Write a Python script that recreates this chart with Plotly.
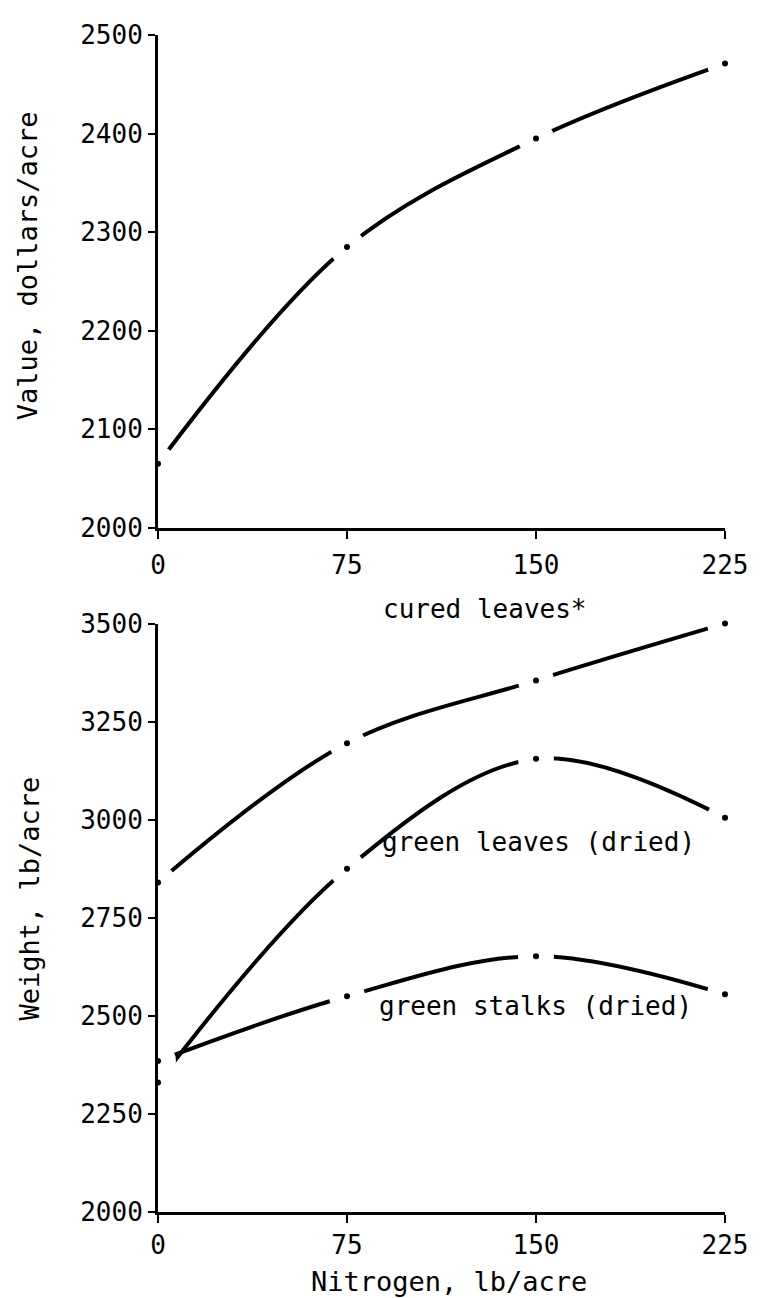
import plotly.graph_objects as go

# ---- data ----
nitrogen = [0, 75, 150, 225]
value_dollars = [2065, 2285, 2395, 2471]
cured_leaves = [2840, 3195, 3355, 3500]
green_leaves = [2330, 2875, 3155, 3005]
green_stalks = [2385, 2550, 2652, 2555]

x_ticks = [0, 75, 150, 225]
value_ticks = [2000, 2100, 2200, 2300, 2400, 2500]
weight_ticks = [2000, 2250, 2500, 2750, 3000, 3250, 3500]

series_labels = ["cured leaves*", "green leaves (dried)", "green stalks (dried)"]

FONT = "DejaVu Sans Mono"
INK = "black"

fig = go.Figure()

panels = [
    ("x", "y", [value_dollars]),
    ("x2", "y2", [cured_leaves, green_leaves, green_stalks]),
]

# curves
for xa, ya, ser in panels:
    for s in ser:
        fig.add_trace(go.Scatter(
            x=nitrogen, y=s, xaxis=xa, yaxis=ya, mode="lines",
            line=dict(color=INK, width=4, shape="spline"),
            showlegend=False, hoverinfo="skip"))
# white halos that open gaps in the line around each point
for xa, ya, ser in panels:
    for s in ser:
        fig.add_trace(go.Scatter(
            x=nitrogen, y=s, xaxis=xa, yaxis=ya, mode="markers",
            marker=dict(color="white", size=36, opacity=1, line=dict(width=0)),
            cliponaxis=False, showlegend=False, hoverinfo="skip"))
# data points
for xa, ya, ser in panels:
    for s in ser:
        fig.add_trace(go.Scatter(
            x=nitrogen, y=s, xaxis=xa, yaxis=ya, mode="markers",
            marker=dict(color=INK, size=6, line=dict(width=0)),
            cliponaxis=False, showlegend=False))

axis_common = dict(
    showline=True, linecolor=INK, linewidth=3, mirror=False,
    showgrid=False, zeroline=False, ticks="outside", tickcolor=INK,
    tickwidth=2, tickfont=dict(family=FONT, size=26, color=INK),
    layer="above traces",
)

# page body has an 8px margin, so the figure is sized/placed to compensate
fig.update_layout(
    width=752, height=1290,
    margin=dict(l=150, r=21, t=22, b=86),
    paper_bgcolor="white", plot_bgcolor="white",
    xaxis=dict(axis_common, domain=[0, 1], anchor="y", range=[0, 225],
               tickvals=x_ticks, ticklen=8, ticklabelstandoff=4,
               ticklabeloverflow="allow"),
    yaxis=dict(axis_common, domain=[0.5812, 1], anchor="x", range=[2000, 2500],
               tickvals=value_ticks, ticklen=7),
    xaxis2=dict(axis_common, domain=[0, 1], anchor="y2", range=[0, 225],
                tickvals=x_ticks, ticklen=8, ticklabelstandoff=0,
                ticklabeloverflow="allow"),
    yaxis2=dict(axis_common, domain=[0, 0.5], anchor="x2", range=[2000, 3500],
                tickvals=weight_ticks, ticklen=7),
)

title_font = dict(family=FONT, size=27, color=INK)
ann_font = dict(family=FONT, size=26, color=INK)
fig.add_annotation(text="Value, dollars/acre", xref="paper", yref="paper",
                   x=-0.2306, y=0.8037, textangle=-90, showarrow=False,
                   xanchor="center", yanchor="middle", font=title_font)
fig.add_annotation(text="Weight, lb/acre", xref="paper", yref="paper",
                   x=-0.227, y=0.2665, textangle=-90, showarrow=False,
                   xanchor="center", yanchor="middle", font=title_font)
fig.add_annotation(text="Nitrogen, lb/acre", xref="paper", yref="paper",
                   x=0.513, y=-0.059, showarrow=False,
                   xanchor="center", yanchor="middle", font=title_font)

label_pos = [(0.394, 0.5127), (0.391, 0.3147), (0.387, 0.175)]
for txt, (px, py) in zip(series_labels, label_pos):
    fig.add_annotation(text=txt, xref="paper", yref="paper", x=px, y=py,
                       showarrow=False, xanchor="left", yanchor="middle",
                       font=ann_font)

fig.write_html("out.html")
